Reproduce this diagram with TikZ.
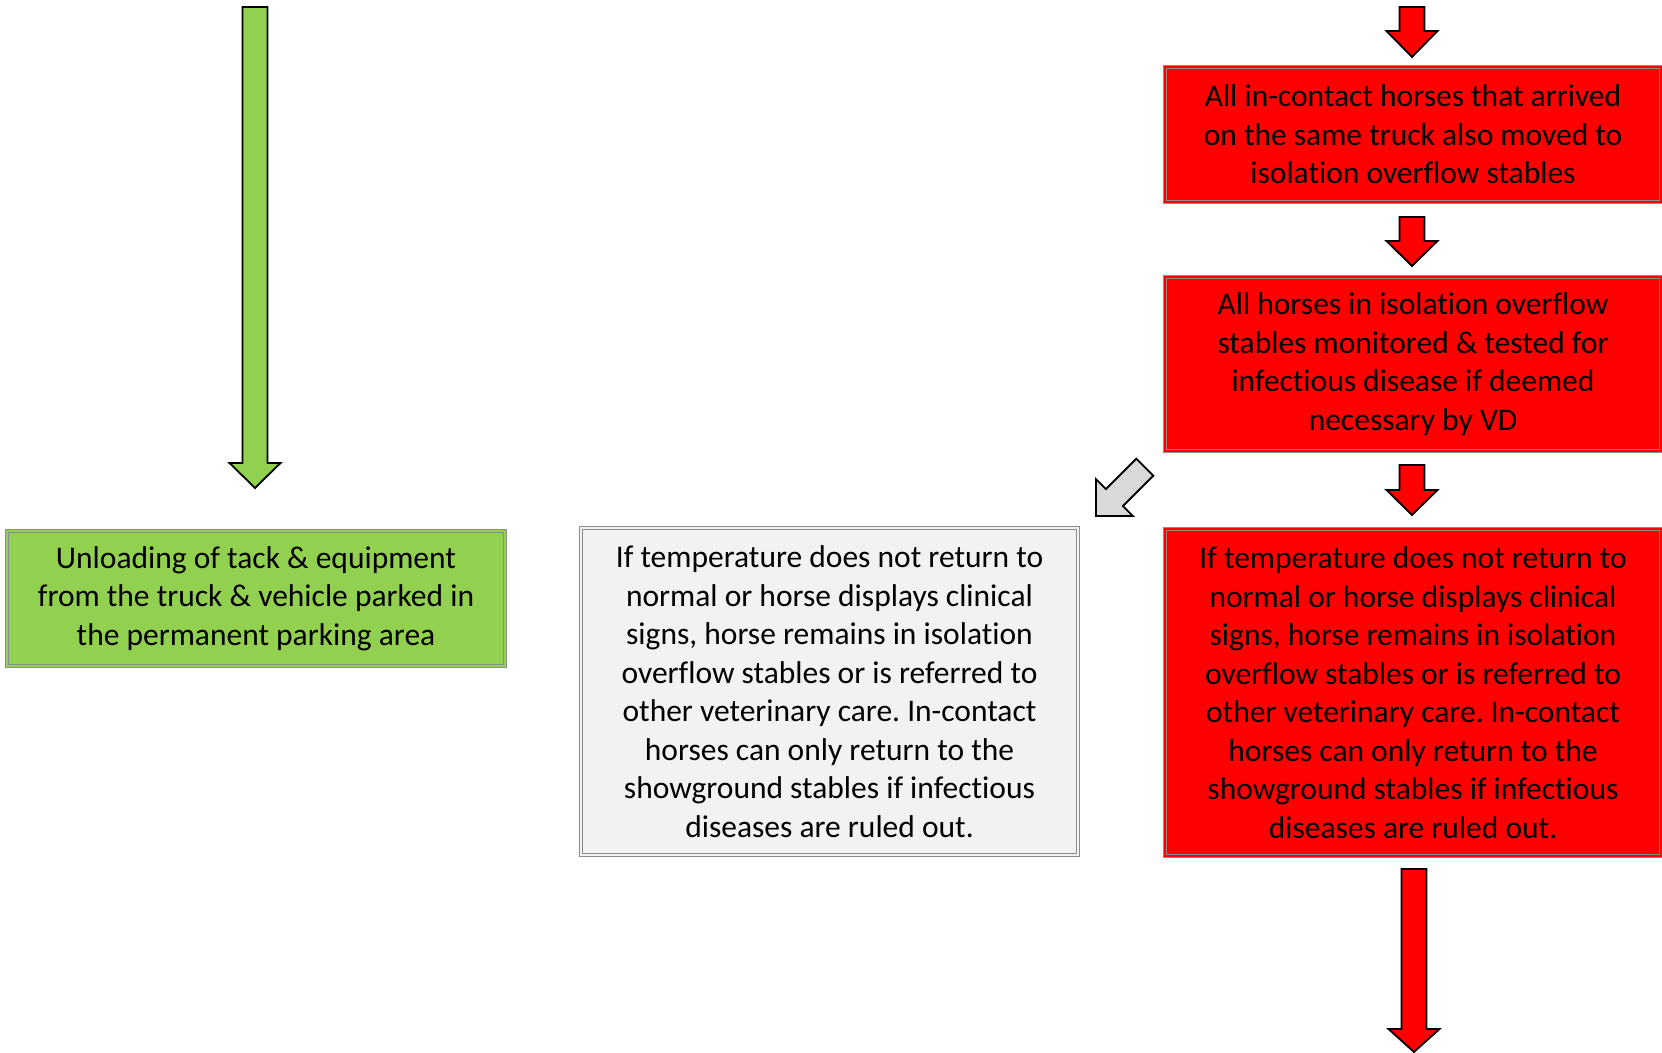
\documentclass[tikz,border=0pt]{standalone}
\usepackage{fontspec}
\setmainfont{Carlito}[Ligatures=NoCommon]
\frenchspacing
\definecolor{boxgreen}{HTML}{92D050}
\definecolor{boxgrey}{HTML}{F2F2F2}
\definecolor{arrowgrey}{HTML}{D9D9D9}
\definecolor{rimgrey}{HTML}{8C8C8C}
\begin{document}
\begin{tikzpicture}[x=1pt,y=-1pt,
  box/.style={draw=rimgrey, line width=1pt, double distance=2.6pt, inner sep=0pt, align=center,
    font=\fontsize{31.5}{38.5}\selectfont},
  greenbox/.style={box, fill=boxgreen, double=boxgreen},
  greybox/.style={box, fill=boxgrey, double=boxgrey},
  redbox/.style={box, fill=red, double=red},
  blockarrow/.style={draw=black, line width=1.8pt, line join=miter}]
\useasboundingbox (0,0) rectangle (1662,1052);
\clip (0,0) rectangle (1662,1052);

% left column
\draw[blockarrow, fill=boxgreen] (242.5,7) -- (267.5,7) -- (267.5,463) -- (280.5,463) -- (255,488) -- (229.5,463) -- (242.5,463) -- cycle;
\node[greenbox, minimum width=498pt, minimum height=135pt] (unload) at (256,598.5)
  {Unloading of tack \& equipment\\ from the truck \& vehicle parked in\\ the permanent parking area};

% middle column
\draw[blockarrow, fill=arrowgrey] (1096,516) -- (1096,479.2) -- (1105.9,489.1) -- (1136.3,458.7) -- (1153.3,475.7) -- (1122.9,506.1) -- (1132.8,516) -- cycle;
\node[greybox, minimum width=497pt, minimum height=327pt] (remainsgrey) at (829.5,691.5)
  {If temperature does not return to\\ normal or horse displays clinical\\ signs, horse remains in isolation\\ overflow stables or is referred to\\ other veterinary care. In-contact\\ horses can only return to the\\ showground stables if infectious\\ diseases are ruled out.};

% right column
\draw[blockarrow, fill=red] (1399.5,7) -- (1424.5,7) -- (1424.5,31) -- (1437.5,31) -- (1412,57) -- (1386.5,31) -- (1399.5,31) -- cycle;
\node[redbox, minimum width=496pt, minimum height=135pt] (incontact) at (1413,134.5)
  {All in-contact horses that arrived\\ on the same truck also moved to\\ isolation overflow stables};
\draw[blockarrow, fill=red] (1399.5,217) -- (1424.5,217) -- (1424.5,241) -- (1437.5,241) -- (1412,266) -- (1386.5,241) -- (1399.5,241) -- cycle;
\node[redbox, minimum width=496pt, minimum height=174pt] (monitored) at (1413,364)
  {All horses in isolation overflow\\ stables monitored \& tested for\\ infectious disease if deemed\\ necessary by VD};
\draw[blockarrow, fill=red] (1399.5,465) -- (1424.5,465) -- (1424.5,490) -- (1437.5,490) -- (1412,515) -- (1386.5,490) -- (1399.5,490) -- cycle;
\node[redbox, minimum width=496pt, minimum height=327pt] (remainsred) at (1413,692.5)
  {If temperature does not return to\\ normal or horse displays clinical\\ signs, horse remains in isolation\\ overflow stables or is referred to\\ other veterinary care. In-contact\\ horses can only return to the\\ showground stables if infectious\\ diseases are ruled out.};
\draw[blockarrow, fill=red] (1401.5,869) -- (1426.5,869) -- (1426.5,1029) -- (1439.5,1029) -- (1414,1052) -- (1388.5,1029) -- (1401.5,1029) -- cycle;
\end{tikzpicture}
\end{document}
